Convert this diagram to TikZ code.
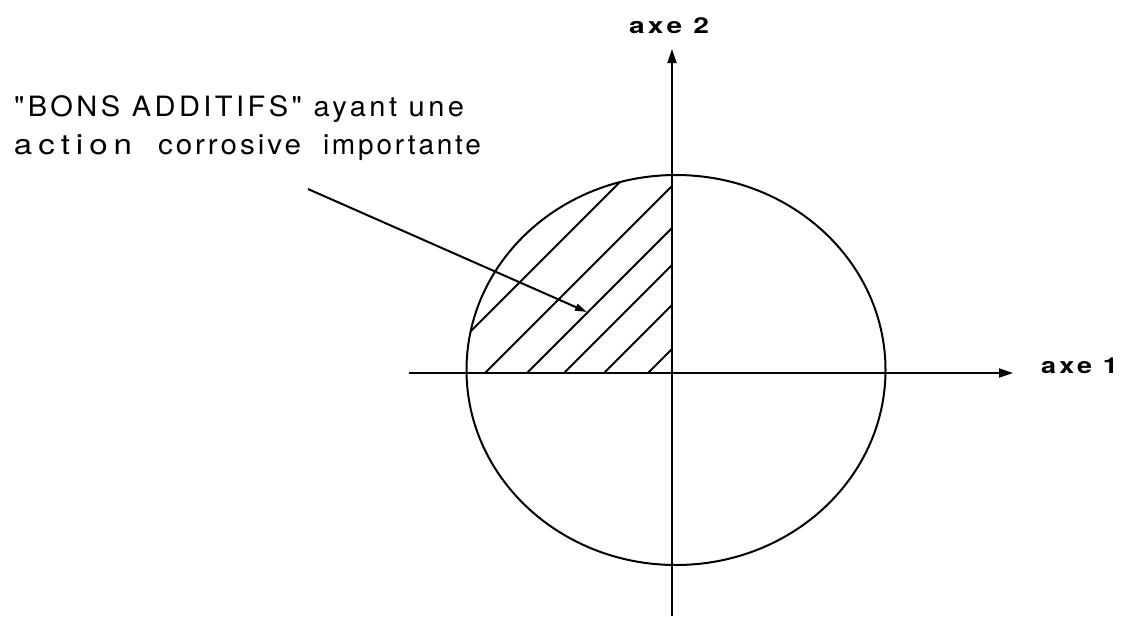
\documentclass[tikz,border=0pt]{standalone}
\usepackage{fontspec}
\setmainfont{TeX Gyre Heros}[Ligatures=TeXOff]
\usetikzlibrary{arrows.meta}
\newcommand{\fitw}[2]{\resizebox{#1}{\height}{#2}}
\newcommand{\spaced}[3]{\fitw{#1}{\addfontfeature{LetterSpace=#2}#3}}
\begin{document}
\begin{tikzpicture}[x=1pt,y=-1pt,line width=2pt,
  axis/.style={-{Triangle[length=14pt,width=9pt]}},
  pointer/.style={-{Triangle[length=12pt,width=7pt]}},
  hatch/.style={line width=2pt},
  txt/.style={inner sep=0pt,anchor=base west,font=\fontsize{28}{32}\selectfont},
  axlabel/.style={inner sep=0pt,anchor=base west,font=\fontsize{22}{26}\selectfont\bfseries}]
\useasboundingbox (0,0) rectangle (1121,616);
% axes
\coordinate (hL) at (409,373);
\coordinate (hR) at (1013,373);
\coordinate (vB) at (672,616);
\coordinate (vT) at (672,49);
\draw[axis] (hL) -- (hR);
\draw[axis] (vB) -- (vT);
% ellipse
\draw (676,370) ellipse [x radius=209.5, y radius=195];
% hatching
\begin{scope}
  \clip (676,370) ellipse [x radius=209.5, y radius=195];
  \clip (400,100) rectangle (672,373);
  \foreach \c in {802,858,900,937,977,1021}
    \draw[hatch] (\c-373,373) -- (\c-100,100);
\end{scope}
% labels
\node[axlabel] (a2) at (628,33) {\spaced{80pt}{12}{axe\hspace{0.4em}2}};
\node[axlabel] (a1) at (1040,373) {\spaced{77pt}{12}{axe\hspace{0.4em}1}};
\node[txt] (t1) at (13,116) {\spaced{450pt}{12}{"BONS ADDITIFS" ayant une}};
\node[txt] (t2) at (13,154) {\hbox{\makebox[144pt][l]{\spaced{118pt}{18}{action}}\makebox[165pt][l]{\spaced{143pt}{10}{corrosive}}\spaced{158pt}{10}{importante}}};
\coordinate (src) at (308,189);
\coordinate (tip) at (587,312);
\draw[pointer] (src) -- (tip);
\end{tikzpicture}
\end{document}
